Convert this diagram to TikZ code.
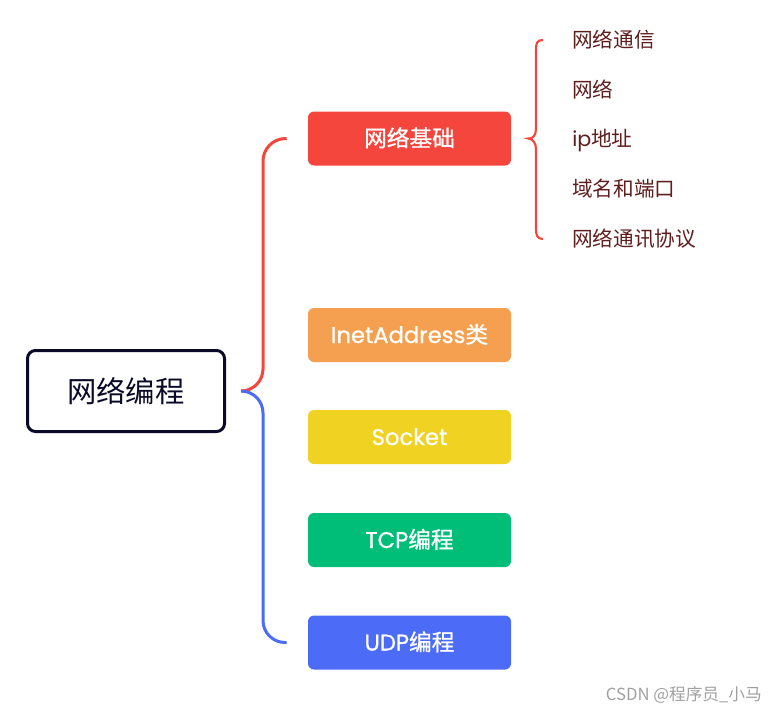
\documentclass[tikz,border=0pt]{standalone}
\usepackage{fontspec}
\setmainfont{Noto Sans CJK SC}
\newfontfamily\cjk{Noto Sans CJK SC}
\newfontfamily\cjkb{Noto Sans CJK SC}[FakeBold=0.9]
\newfontfamily\pop{Poppins}
\newfontfamily\popb{Poppins}[FakeBold=0.9]
\usetikzlibrary{calc}
\definecolor{cRed}{RGB}{245,70,62}
\definecolor{cOrange}{RGB}{244,160,80}
\definecolor{cYellow}{RGB}{240,210,35}
\definecolor{cGreen}{RGB}{0,190,120}
\definecolor{cBlue}{RGB}{76,108,248}
\definecolor{cNavy}{RGB}{10,10,40}
\definecolor{cLeaf}{RGB}{95,30,30}
\definecolor{cMark}{RGB}{160,160,160}
\tikzset{
  rootbox/.style={draw=cNavy, line width=2.25pt, rounded corners=6pt, minimum width=147.75pt, minimum height=60.75pt, inner sep=0pt, text=cNavy, font=\cjk\fontsize{22}{26}\selectfont},
  childbox/.style={fill=#1, draw=none, rounded corners=4.5pt, minimum width=152.25pt, minimum height=40.5pt, inner sep=0pt, text=white, text height=13pt, text depth=1pt, font=\cjkb\fontsize{17}{20}\selectfont},
  leaf/.style={anchor=west, inner sep=0pt, text=cLeaf, text height=12.5pt, text depth=0.7pt, font=\fontsize{15.5}{19}\selectfont},
  branch/.style={line width=2.25pt, rounded corners=16.5pt},
  brace/.style={draw=cRed, line width=1.6pt}
}
\begin{document}
\begin{tikzpicture}[x=0.75pt,y=-0.75pt]
\useasboundingbox (0,0) rectangle (776,715);
\node[rootbox] (root) at (126,391) {网络编程};
\node[childbox=cRed] (c1) at (409.5,138.5) {网络基础};
\node[childbox=cOrange] (c2) at (409.5,335) {{\popb InetAddress}类};
\node[childbox=cYellow] (c3) at (409.5,437) {\popb Socket};
\node[childbox=cGreen] (c4) at (409.5,540) {{\popb TCP}编程};
\node[childbox=cBlue] (c5) at (409.5,642.5) {{\popb UDP}编程};

\node[leaf] (l1) at (572,40) {网络通信};
\node[leaf] (l2) at (572,89.5) {网络};
\node[leaf] (l3) at (572,139) {{\pop ip}地址};
\node[leaf] (l4) at (572,189) {域名和端口};
\node[leaf] (l5) at (572,239) {网络通讯协议};

\coordinate (s) at ($(root.east)+(15,0)$);
\coordinate (e1) at ($(c1.west)+(-21,0)$);
\coordinate (e5) at ($(c5.west)+(-21,0)$);
\draw[branch, cRed] (s) -| (263,139) -- (e1);
\draw[branch, cBlue] (s) -| (263,642.5) -- (e5);

\coordinate (tip) at ($(c1.east)+(17,0)$);
\coordinate (bt) at ($(l1.west)+(-29,0)$);
\coordinate (bb) at ($(l5.west)+(-29,0)$);
\draw[brace] (bt) .. controls (537,40) and (536,43) .. (536,50) -- (536,129)
  .. controls (536,135) and (533,139) .. (tip)
  .. controls (533,139) and (536,143) .. (536,149) -- (536,228)
  .. controls (536,235) and (537,239) .. (bb);

\node[text=cMark, font=\fontsize{12.5}{15}\selectfont, anchor=east, inner sep=0pt] (mark) at (762,695) {CSDN @程序员\_小马};
\end{tikzpicture}
\end{document}
